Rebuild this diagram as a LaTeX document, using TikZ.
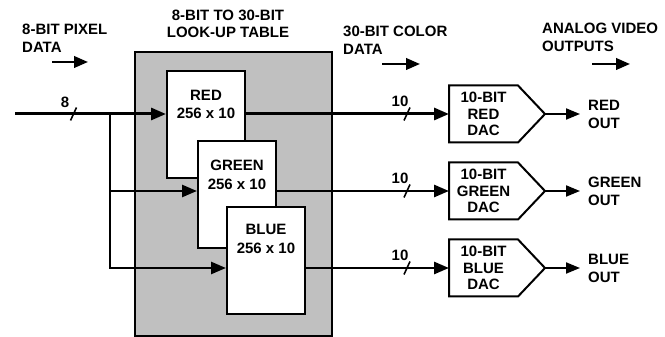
\documentclass[tikz,border=0pt]{standalone}
\usepackage{fontspec}
\setmainfont{Liberation Sans}
\usetikzlibrary{positioning, arrows.meta}
\definecolor{gris}{RGB}{192,192,192}
\tikzset{
    flecha/.style={-{Triangle[length=15pt, width=12pt]}},
    flechita/.style={-{Triangle[length=14pt, width=11.5pt]}, line width=2.4pt},
    fondo/.style={rectangle, draw=black, line width=1.8pt, fill=gris,
        minimum width=197pt, minimum height=284pt},
    tabla/.style={rectangle, draw=black, line width=2pt, fill=white,
        minimum width=78pt, minimum height=107pt},
    dac/.style={rectangle, inner sep=0pt, outer sep=0pt, align=center,
        minimum width=69pt, minimum height=57pt,
        font=\fontsize{15}{16.5}\selectfont\bfseries},
    texto/.style={inner sep=0pt, align=center,
        font=\fontsize{15}{18.5}\selectfont\bfseries},
    titulo/.style={inner sep=0pt, align=left, anchor=north west},
    barra/.style={line width=1.6pt},
    conexion/.style={coordinate}}

\begin{document}
\begin{tikzpicture}[x=1pt, y=1pt, font=\fontsize{15}{18}\selectfont\bfseries]
    \useasboundingbox (0,0) rectangle (665,337);

    % titulos
    \node[titulo] (tpix) at (22,313) {8-BIT PIXEL\\DATA};
    \node[texto, anchor=north, font=\fontsize{15}{17}\selectfont\bfseries] (ttab) at (228,327) {8-BIT TO 30-BIT\\LOOK-UP TABLE};
    \node[titulo] (tcol) at (343,311) {30-BIT COLOR\\DATA};
    \node[titulo] (tana) at (542,314) {ANALOG VIDEO\\OUTPUTS};
    \foreach \n/\a/\b/\y in {pix/52/88/275, col/382/420/273, ana/592/630/273}{
        \coordinate (i\n) at (\a,\y);
        \coordinate (f\n) at (\b,\y);
        \draw[flechita] (i\n) -- (f\n);
    }

    % tabla de consulta
    \node[fondo] (lut) at (233.5,143) {};
    \node[tabla] (rojo) at (206,212) {};
    \node[texto, below=19pt of rojo.north] (trojo) {RED\\256 x 10};
    \node[tabla] (verde) at (237,142.5) {};
    \node[texto, below=20pt of verde.north] (tverde) {GREEN\\256 x 10};
    \node[tabla] (azul) at (266,76.5) {};
    \node[texto, below=18pt of azul.north] (tazul) {BLUE\\256 x 10};

    % DACs
    \foreach \c/\y/\t in {R/223/RED, G/146/GREEN, B/69/BLUE}{
        \node[dac] (dac\c) at (483.5,\y) {10-BIT\\\t\\DAC};
        \draw[line width=2pt] (dac\c.north west) -- (dac\c.north east)
            -- ([xshift=27pt]dac\c.east) coordinate (punta\c)
            -- (dac\c.south east) -- (dac\c.south west) -- cycle;
        \coordinate[right=35pt of punta\c] (sal\c);
        \draw[-{Triangle[length=14pt, width=11pt]}, line width=2pt] (punta\c) -- (sal\c);
        \node[texto, align=left, right=8pt of sal\c, font=\fontsize{15}{18}\selectfont\bfseries] (out\c) {\t\\OUT};
        \draw[barra] (404,\y-6.5) -- (410,\y+6.5);
        \node (n\c) at (400,\y+12.5) {10};
    }

    % entrada
    \node[conexion] (ent) at (15,223) {};
    \node[conexion] (rama) at (110,223) {};
    \draw[flecha, line width=3pt] (ent) -- (rojo.west |- ent);
    \draw[flecha, line width=2.5pt] (rama) |- (azul.west |- dacB);
    \draw[flecha, line width=2.5pt] (rama |- dacG) -- (verde.west |- dacG);
    \draw[barra] (70.5,216.5) -- (76.5,229.5);
    \node (n8) at (65,235) {8};

    % salidas de la tabla
    \draw[flecha, line width=3pt] (rojo.east |- dacR) -- (dacR.west);
    \draw[flecha, line width=2.7pt] (verde.east |- dacG) -- (dacG.west);
    \draw[flecha, line width=2.7pt] (azul.east |- dacB) -- (dacB.west);
\end{tikzpicture}
\end{document}
